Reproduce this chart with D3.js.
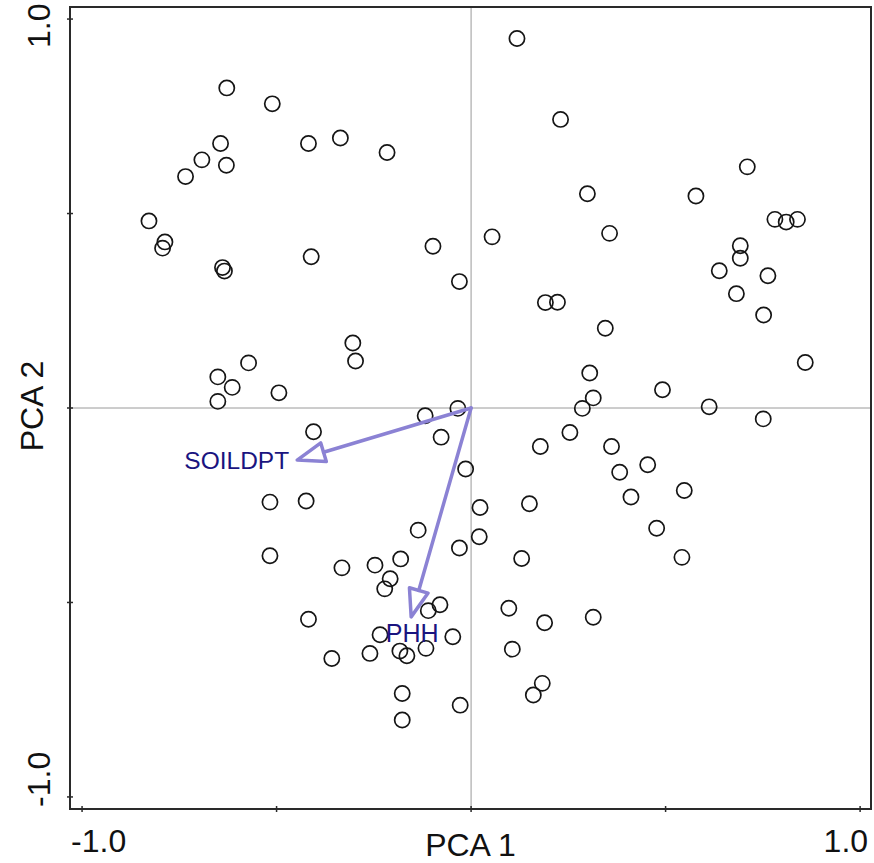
<!DOCTYPE html>
<html>
<head>
<meta charset="utf-8">
<script src="https://cdn.jsdelivr.net/npm/d3@7"></script>
<style>
  html, body { margin: 0; padding: 0; background: #fff; }
  svg { display: block; }
  text { font-family: Arial, "Liberation Sans", sans-serif; }
</style>
</head>
<body>
<script>
// ---- Data ----
const pointsX = [0.118,-0.628,-0.511,0.230,-0.418,-0.336,-0.644,-0.216,-0.692,-0.629,-0.734,0.710,0.299,0.578,-0.828,0.781,0.810,0.839,-0.787,-0.793,0.054,0.356,-0.098,0.692,0.692,-0.411,-0.639,-0.634,0.638,0.763,-0.030,0.682,0.191,0.222,0.752,0.345,-0.304,-0.297,-0.572,0.859,-0.651,-0.614,0.305,-0.494,0.492,-0.651,0.314,0.286,0.612,-0.034,-0.118,0.751,-0.405,-0.077,0.254,0.178,0.361,0.454,-0.014,0.382,0.548,0.411,-0.517,-0.424,0.150,0.023,-0.136,0.477,0.021,-0.030,-0.517,0.130,0.542,-0.332,-0.247,-0.181,-0.208,-0.222,-0.080,-0.110,0.097,0.189,0.314,-0.418,-0.234,-0.047,-0.116,-0.183,-0.165,-0.260,-0.358,0.106,0.183,0.160,-0.177,-0.028,-0.177];
const pointsY = [0.950,0.823,0.782,0.742,0.680,0.694,0.680,0.657,0.638,0.624,0.595,0.620,0.551,0.545,0.481,0.485,0.478,0.485,0.427,0.411,0.440,0.449,0.416,0.417,0.385,0.389,0.361,0.352,0.353,0.340,0.325,0.294,0.271,0.272,0.239,0.205,0.167,0.121,0.116,0.117,0.080,0.053,0.090,0.039,0.047,0.017,0.026,-0.001,0.003,-0.001,-0.020,-0.028,-0.061,-0.075,-0.063,-0.099,-0.099,-0.146,-0.157,-0.165,-0.212,-0.229,-0.242,-0.239,-0.246,-0.256,-0.314,-0.309,-0.331,-0.360,-0.380,-0.387,-0.384,-0.411,-0.404,-0.388,-0.439,-0.465,-0.506,-0.521,-0.515,-0.552,-0.538,-0.543,-0.583,-0.588,-0.618,-0.625,-0.637,-0.631,-0.644,-0.620,-0.708,-0.738,-0.734,-0.764,-0.802];

const varNames = ["SOILDPT", "PHH"];
const varX = [-0.447, -0.154];
const varY = [-0.134, -0.537];

const tickValues = [-1, -0.5, 0, 0.5, 1];
const xTickLabels = ["-1.0", "1.0"];
const yTickLabels = ["-1.0", "1.0"];
const xTitle = "PCA 1";
const yTitle = "PCA 2";

// ---- Layout ----
const W = 874, H = 863;
const pLeft = 70, pRight = 871, pTop = 7, pBottom = 809;

const x = d3.scaleLinear().domain([-1.031, 1.028]).range([pLeft, pRight]);
const y = d3.scaleLinear().domain([-1.031, 1.031]).range([pBottom, pTop]);

const svg = d3.select("body").append("svg").attr("width", W).attr("height", H);

// crosshairs
svg.append("line").attr("x1", x(0)).attr("x2", x(0)).attr("y1", pTop).attr("y2", pBottom)
  .attr("stroke", "#9a9a9a").attr("stroke-width", 1);
svg.append("line").attr("x1", pLeft).attr("x2", pRight).attr("y1", y(0)).attr("y2", y(0))
  .attr("stroke", "#9a9a9a").attr("stroke-width", 1);

// points
svg.append("g").selectAll("circle").data(pointsX.map((v, i) => [v, pointsY[i]])).join("circle")
  .attr("cx", d => x(d[0])).attr("cy", d => y(d[1])).attr("r", 7.6)
  .attr("fill", "none").attr("stroke", "#151515").attr("stroke-width", 1.7);

// arrows
const arrowColor = "#8b82d4";
const headLen = 27.5, headHalf = 9.7;
const ag = svg.append("g");
varNames.forEach((name, i) => {
  const x0 = x(0), y0 = y(0);
  const tx = x(varX[i]), ty = y(varY[i]);
  const dx = tx - x0, dy = ty - y0;
  const L = Math.hypot(dx, dy);
  const ux = dx / L, uy = dy / L;
  const bx = tx - ux * headLen, by = ty - uy * headLen;
  const px = -uy, py = ux;
  ag.append("line").attr("x1", x0).attr("y1", y0).attr("x2", bx).attr("y2", by)
    .attr("stroke", arrowColor).attr("stroke-width", 3.5).attr("stroke-linecap", "round");
  ag.append("path")
    .attr("d", `M${tx},${ty}L${bx + px * headHalf},${by + py * headHalf}L${bx - px * headHalf},${by - py * headHalf}Z`)
    .attr("fill", "none").attr("stroke", arrowColor).attr("stroke-width", 3.5).attr("stroke-linejoin", "round");
});

// variable labels
svg.append("text").attr("x", x(varX[0]) - 8).attr("y", y(varY[0]) + 9)
  .attr("text-anchor", "end").attr("font-size", 24.5).attr("fill", "#1a1480").text(varNames[0]);
svg.append("text").attr("x", x(varX[1]) + 1).attr("y", y(varY[1]) + 25.5)
  .attr("text-anchor", "middle").attr("font-size", 25).attr("fill", "#1a1480").text(varNames[1]);

// frame
svg.append("rect").attr("x", pLeft).attr("y", pTop).attr("width", pRight - pLeft).attr("height", pBottom - pTop)
  .attr("fill", "none").attr("stroke", "#2a2a2a").attr("stroke-width", 2);

// ticks (crossing frame)
const tg = svg.append("g").attr("stroke", "#2a2a2a").attr("stroke-width", 1.5);
tickValues.forEach(v => {
  tg.append("line").attr("x1", x(v)).attr("x2", x(v)).attr("y1", pBottom - 3).attr("y2", pBottom + 3);
  tg.append("line").attr("x1", pLeft - 3).attr("x2", pLeft + 3).attr("y1", y(v)).attr("y2", y(v));
});

// tick labels
svg.append("text").attr("x", x(-1) - 11).attr("y", 852).attr("text-anchor", "start")
  .attr("font-size", 32).attr("fill", "#111").text(xTickLabels[0]);
svg.append("text").attr("x", x(1) + 8).attr("y", 852).attr("text-anchor", "end")
  .attr("font-size", 32).attr("fill", "#111").text(xTickLabels[1]);
svg.append("text").attr("transform", `translate(50,${y(-1) + 10}) rotate(-90)`).attr("text-anchor", "start")
  .attr("font-size", 32).attr("fill", "#111").text(yTickLabels[0]);
svg.append("text").attr("transform", `translate(50,${y(1) + 29}) rotate(-90)`).attr("text-anchor", "start")
  .attr("font-size", 32).attr("fill", "#111").text(yTickLabels[1]);

// axis titles
svg.append("text").attr("x", 470.5).attr("y", 856).attr("text-anchor", "middle")
  .attr("font-size", 32).attr("fill", "#111").text(xTitle);
svg.append("text").attr("transform", `translate(43,406) rotate(-90)`).attr("text-anchor", "middle")
  .attr("font-size", 32).attr("fill", "#111").text(yTitle);
</script>
</body>
</html>
